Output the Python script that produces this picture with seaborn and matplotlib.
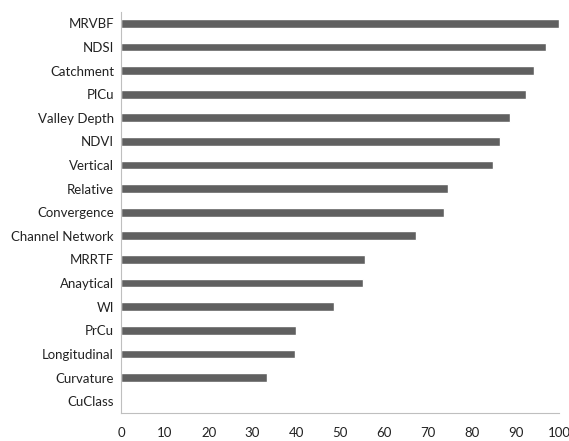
import pandas as pd
import matplotlib.pyplot as plt
import seaborn as sns

factors = ["MRVBF", "NDSI", "Catchment", "PlCu", "Valley Depth", "NDVI",
           "Vertical", "Relative", "Convergence", "Channel Network", "MRRTF",
           "Anaytical", "WI", "PrCu", "Longitudinal", "Curvature", "CuClass"]
importance = [100, 97, 94.3, 92.3, 88.8, 86.5, 84.9, 74.6, 73.7, 67.2, 55.6,
              55.3, 48.6, 40.0, 39.6, 33.2, 0]
xticks = list(range(0, 101, 10))

df = pd.DataFrame({"factor": factors, "importance": importance})

sns.set_style("white")
plt.rcParams["font.family"] = ["Lato", "DejaVu Sans"]

fig = plt.figure(figsize=(5.69, 4.41), dpi=100)
ax = fig.add_axes([121 / 569, 1 - 413 / 441, (559.3 - 121) / 569, (413 - 11.5) / 441])

sns.barplot(data=df, x="importance", y="factor", orient="h", color="#606060",
            saturation=1, width=0.37, ax=ax)

ax.set_xlim(0, 100)
ax.set_ylim(len(factors) - 0.5, -0.5)
ax.set_xticks(xticks)
ax.set_xlabel("")
ax.set_ylabel("")

# category boundary ticks on the y axis, labels centered
ax.set_yticks([i + 0.5 for i in range(-1, len(factors))], minor=False)
ax.set_yticklabels([])
ax.set_yticks(range(len(factors)), minor=True)
ax.set_yticklabels(factors, minor=True)
ax.tick_params(axis="y", which="minor", length=0, pad=5, labelsize=9.5, labelcolor="#222222")
ax.tick_params(axis="y", which="major", length=4, width=0.8, color="#bfbfbf", direction="out")
ax.tick_params(axis="x", length=4, width=0.8, color="#bfbfbf", direction="out",
               labelsize=9.5, labelcolor="#222222", pad=6)

for side in ["top", "right"]:
    ax.spines[side].set_visible(False)
for side in ["left", "bottom"]:
    ax.spines[side].set_color("#bfbfbf")
    ax.spines[side].set_linewidth(0.8)

fig.savefig("out.png", dpi=100)
